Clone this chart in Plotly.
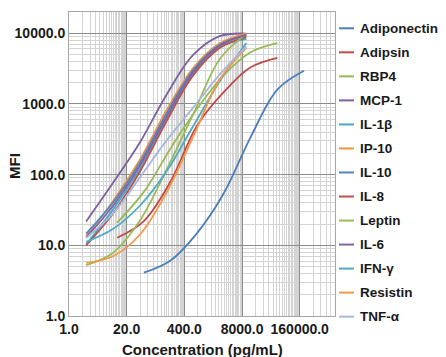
import plotly.graph_objects as go

# ---- data ----
conc_a = [2.44, 9.77, 39.06, 156.25, 625, 2500, 10000]
conc_b = [12.2, 48.8, 195.3, 781.3, 3125, 12500, 50000]
conc_c = [48.8, 195.3, 781.3, 3125, 12500, 50000, 200000]

adiponectin = [4.1, 6.1, 15, 55, 340, 1600, 2950]
adipsin = [12.8, 22, 80, 500, 1480, 3300, 4500]
rbp4 = [21, 57, 235, 860, 2570, 5400, 7250]
mcp1 = [21.8, 76, 280, 1330, 4900, 9100, 9900]
il1b = [10.3, 32, 120, 600, 2600, 6400, 8300]
ip10 = [13.5, 42, 160, 800, 3200, 7200, 9900]
il10 = [14.6, 40, 145, 720, 3000, 6900, 9300]
il8 = [10.0, 28, 108, 560, 2500, 6200, 8800]
leptin = [5.25, 7.8, 22, 115, 700, 4300, 9800]
il6 = [13.0, 36, 132, 650, 2800, 6700, 9500]
ifng = [11.2, 17, 36, 110, 480, 2100, 7300]
resistin = [5.66, 7.0, 14, 55, 340, 2200, 6200]
tnfa = [12.7, 28, 90, 300, 880, 2600, 6500]

names = ["Adiponectin", "Adipsin", "RBP4", "MCP-1", "IL-1β", "IP-10", "IL-10",
         "IL-8", "Leptin", "IL-6", "IFN-γ", "Resistin", "TNF-α"]
xs = [conc_c, conc_b, conc_b, conc_a, conc_a, conc_a, conc_a,
      conc_a, conc_a, conc_a, conc_a, conc_a, conc_a]
ys = [adiponectin, adipsin, rbp4, mcp1, il1b, ip10, il10,
      il8, leptin, il6, ifng, resistin, tnfa]
colors = ["#4A7EBB", "#BE4B48", "#98B954", "#7D60A0", "#46AAC5", "#F59240", "#4F86C6",
          "#C0504D", "#9BBB59", "#8064A2", "#4BACC6", "#F79646", "#A7B9DB"]

x_tick_vals = [1, 20, 400, 8000, 160000]
x_tick_text = ["1.0", "20.0", "400.0", "8000.0", "160000.0"]
y_tick_vals = [1, 10, 100, 1000, 10000]
y_tick_text = ["1.0", "10.0", "100.0", "1000.0", "10000.0"]

# minor gridlines (Excel log base 20 on x, base 10 on y)
x_minor = [v * k for v in x_tick_vals for k in range(2, 20) if v * k < 1e6]
y_minor = [v * k for v in y_tick_vals for k in range(2, 10) if v * k < 20000]

FONT = "Liberation Sans, Arial, sans-serif"
TXT = "#1a1a1a"

fig = go.Figure()
for n, x, y, c in zip(names, xs, ys, colors):
    fig.add_trace(go.Scatter(x=x, y=y, name=n, mode="lines",
                             line=dict(color=c, width=1.8, shape="spline", smoothing=1.0),
                             showlegend=False))

W, H = 446, 357
L, R, T, B = 69, 111, 12, 41
pw, ph = W - L - R, H - T - B

# custom legend (Excel-style short line samples)
for i, (n, c) in enumerate(zip(names, colors)):
    py = 28.3 + 24.03 * i
    yp = (H - B - py) / ph
    fig.add_shape(type="line", xref="paper", yref="paper",
                  x0=(339 - L) / pw, x1=(354 - L) / pw, y0=yp, y1=yp,
                  line=dict(color=c, width=2))
    fig.add_annotation(xref="paper", yref="paper", x=(358 - L) / pw, y=yp,
                       text="<b>" + n + "</b>", showarrow=False,
                       xanchor="left", yanchor="middle",
                       font=dict(family=FONT, size=13.5, color=TXT))

# axis titles
fig.add_annotation(xref="paper", yref="paper", x=(202 - L) / pw, y=(H - B - 349) / ph,
                   text="<b>Concentration (pg/mL)</b>", showarrow=False,
                   xanchor="center", yanchor="middle",
                   font=dict(family=FONT, size=15, color=TXT))
fig.add_annotation(xref="paper", yref="paper", x=(14 - L) / pw, y=(H - B - 166) / ph,
                   text="<b>MFI</b>", showarrow=False, textangle=-90,
                   xanchor="center", yanchor="middle",
                   font=dict(family=FONT, size=15, color=TXT))

fig.update_layout(
    width=W, height=H,
    margin=dict(l=L, r=R, t=T, b=B, autoexpand=False),
    paper_bgcolor="white", plot_bgcolor="white",
    font=dict(family=FONT, color=TXT),
)
fig.update_xaxes(
    type="log", range=[0, 6], automargin=False,
    tickmode="array", tickvals=x_tick_vals, ticktext=x_tick_text,
    tickfont=dict(size=14, family=FONT, weight="bold", color=TXT),
    showgrid=True, gridcolor="#8c8c8c", gridwidth=1,
    minor=dict(tickvals=x_minor, showgrid=True, gridcolor="#d4d4d4", gridwidth=1, ticks=""),
    ticks="", ticklen=0, showline=True, linecolor="#a6a6a6", mirror=True, zeroline=False,
)
fig.update_yaxes(
    type="log", range=[0, 4.30103], automargin=False,
    tickmode="array", tickvals=y_tick_vals, ticktext=y_tick_text,
    tickfont=dict(size=14, family=FONT, weight="bold", color=TXT),
    showgrid=True, gridcolor="#8c8c8c", gridwidth=1,
    minor=dict(tickvals=y_minor, showgrid=True, gridcolor="#d4d4d4", gridwidth=1, ticks=""),
    ticks="", ticklen=0, showline=True, linecolor="#a6a6a6", mirror=True, zeroline=False,
)

fig.write_html("out.html", config={"displayModeBar": False},
               post_script="document.body.style.margin='0';document.body.style.padding='0';")
